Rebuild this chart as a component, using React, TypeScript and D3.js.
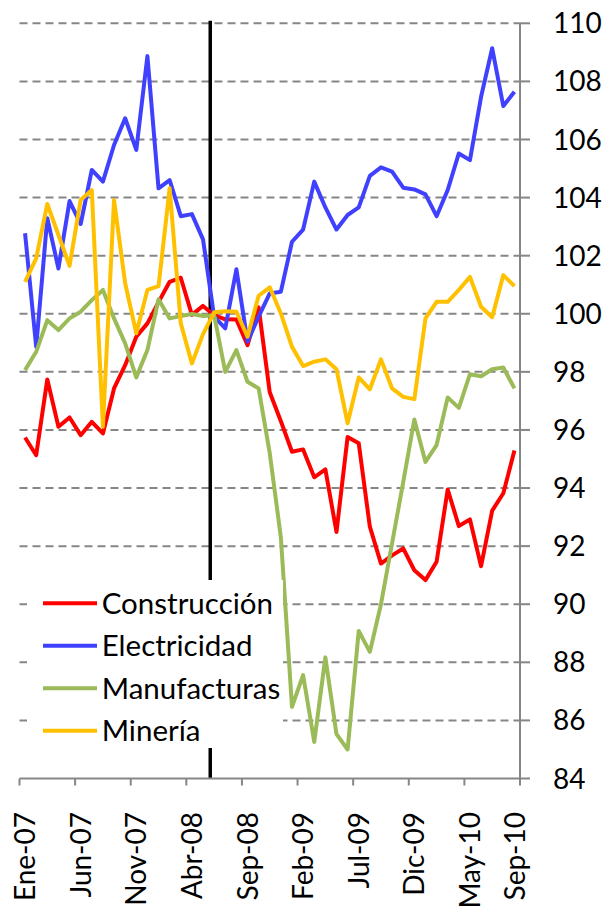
import React from 'react';
import * as d3 from 'd3';

// monthly index, Ene-07 .. Sep-10
const months = [
  'Ene-07', 'Feb-07', 'Mar-07', 'Abr-07', 'May-07', 'Jun-07', 'Jul-07', 'Ago-07', 'Sep-07', 'Oct-07', 'Nov-07', 'Dic-07',
  'Ene-08', 'Feb-08', 'Mar-08', 'Abr-08', 'May-08', 'Jun-08', 'Jul-08', 'Ago-08', 'Sep-08', 'Oct-08', 'Nov-08', 'Dic-08',
  'Ene-09', 'Feb-09', 'Mar-09', 'Abr-09', 'May-09', 'Jun-09', 'Jul-09', 'Ago-09', 'Sep-09', 'Oct-09', 'Nov-09', 'Dic-09',
  'Ene-10', 'Feb-10', 'Mar-10', 'Abr-10', 'May-10', 'Jun-10', 'Jul-10', 'Ago-10', 'Sep-10',
];

const construccion = [
  95.74, 95.13, 97.74, 96.11, 96.43, 95.82, 96.28, 95.88, 97.43, 98.23, 99.21, 99.67,
  100.4, 101.1, 101.24, 99.96, 100.27, 99.95, 99.81, 99.8, 98.92, 100.22, 97.3, 96.3,
  95.25, 95.33, 94.37, 94.64, 92.49, 95.76, 95.54, 92.67, 91.4, 91.68, 91.92, 91.17,
  90.83, 91.46, 93.95, 92.69, 92.92, 91.31, 93.22, 93.82, 95.29,
];
const electricidad = [
  102.77, 98.86, 103.29, 101.56, 103.88, 103.09, 104.95, 104.55, 105.81, 106.73, 105.64, 108.87,
  104.32, 104.6, 103.36, 103.43, 102.56, 99.9, 99.5, 101.53, 99.04, 99.9, 100.7, 100.76,
  102.48, 102.9, 104.55, 103.66, 102.9, 103.4, 103.66, 104.75, 105.04, 104.89, 104.34, 104.28,
  104.11, 103.36, 104.26, 105.52, 105.29, 107.47, 109.14, 107.15, 107.64,
];
const manufacturas = [
  98.06, 98.69, 99.78, 99.44, 99.84, 100.07, 100.47, 100.82, 99.84, 98.98, 97.81, 98.75,
  100.5, 99.84, 99.92, 99.99, 99.92, 99.95, 98.0, 98.75, 97.66, 97.43, 95.2, 92.3,
  86.47, 87.56, 85.26, 88.17, 85.53, 85.0, 89.08, 88.36, 90.0, 92.1, 94.2, 96.36,
  94.9, 95.48, 97.12, 96.76, 97.92, 97.85, 98.09, 98.15, 97.43,
];
const mineria = [
  101.1, 101.91, 103.78, 102.71, 101.65, 103.92, 104.26, 96.11, 103.92, 101.05, 99.33, 100.82,
  100.95, 104.32, 99.67, 98.29, 99.3, 100.05, 100.09, 100.07, 99.21, 100.62, 100.91, 100.01,
  98.86, 98.2, 98.35, 98.43, 98.09, 96.23, 97.81, 97.4, 98.43, 97.43, 97.14, 97.06,
  99.84, 100.41, 100.41, 100.82, 101.27, 100.24, 99.88, 101.33, 100.95,
];

const seriesNames = ['Construcción', 'Electricidad', 'Manufacturas', 'Minería'];
const seriesColors = ['#ff0000', '#4040ff', '#9bbb59', '#ffc000'];
const seriesValues = [construccion, electricidad, manufacturas, mineria];

const xTickLabels = ['Ene-07', 'Jun-07', 'Nov-07', 'Abr-08', 'Sep-08', 'Feb-09', 'Jul-09', 'Dic-09', 'May-10', 'Sep-10'];
const yTicks = [84, 86, 88, 90, 92, 94, 96, 98, 100, 102, 104, 106, 108, 110];
const breakMonth = 16.65; // vertical marker between May-08 and Jun-08

const W = 604;
const H = 909;
const FONT = 'Lato, "Open Sans", sans-serif';

export default function App() {
  const x = d3.scaleLinear().domain([-0.5, months.length - 0.5]).range([19.5, 520]);
  const y = d3.scaleLinear().domain([84, 110]).range([778.5, 23.3]);

  const line = d3.line<number>()
    .x((_, i) => x(i))
    .y(d => y(d));

  const axisGray = '#868686';
  const right = x(months.length - 0.5);
  const bottom = y(84);
  const boundaries = d3.range(0, months.length + 1, 5).map(b => b - 0.5);

  return (
    <svg width={W} height={H} style={{ position: 'absolute', left: 0, top: 0 }} fontFamily={FONT}>
      <rect width={W} height={H} fill="#fff" />

      {/* gridlines */}
      {yTicks.filter(t => t !== 84).map(t => (
        <line key={t} x1={x(-0.5)} x2={right} y1={y(t)} y2={y(t)}
          stroke={axisGray} strokeWidth={2} strokeDasharray="8 5" />
      ))}

      {/* vertical marker */}
      <line x1={x(breakMonth)} x2={x(breakMonth)} y1={y(110) - 2.5} y2={bottom}
        stroke="#000" strokeWidth={3.5} />

      {/* axes */}
      <line x1={x(-0.5)} x2={right} y1={bottom} y2={bottom} stroke={axisGray} strokeWidth={2} />
      {boundaries.map(b => (
        <line key={b} x1={x(b)} x2={x(b)} y1={bottom} y2={bottom + 7} stroke={axisGray} strokeWidth={2} />
      ))}
      <line x1={right} x2={right} y1={y(110)} y2={bottom} stroke={axisGray} strokeWidth={2} />
      {yTicks.map(t => (
        <g key={t}>
          <line x1={right} x2={right + 10} y1={y(t)} y2={y(t)} stroke={axisGray} strokeWidth={2} />
          <text x={553} y={y(t)} dy="0.36em" fontSize={28} fill="#000">{t}</text>
        </g>
      ))}
      {xTickLabels.map(lbl => {
        const i = months.indexOf(lbl);
        return (
          <text key={lbl} transform={`translate(${x(i)},812) rotate(-90)`} textAnchor="end"
            dy="0.36em" fontSize={28} fill="#000">{lbl}</text>
        );
      })}

      {/* series */}
      {seriesValues.map((vals, k) => (
        <path key={seriesNames[k]} d={line(vals) || ''} fill="none" stroke={seriesColors[k]}
          strokeWidth={4} strokeLinejoin="round" />
      ))}

      {/* legend */}
      <rect x={27} y={580} width={256} height={168} fill="#fff" />
      {seriesNames.map((name, k) => {
        const ly = 603.3 + k * 42.5;
        return (
          <g key={name}>
            <line x1={43} x2={97} y1={ly} y2={ly} stroke={seriesColors[k]} strokeWidth={4} />
            <text x={101.7} y={ly} dy="0.36em" fontSize={29.5} fill="#000">{name}</text>
          </g>
        );
      })}
    </svg>
  );
}
